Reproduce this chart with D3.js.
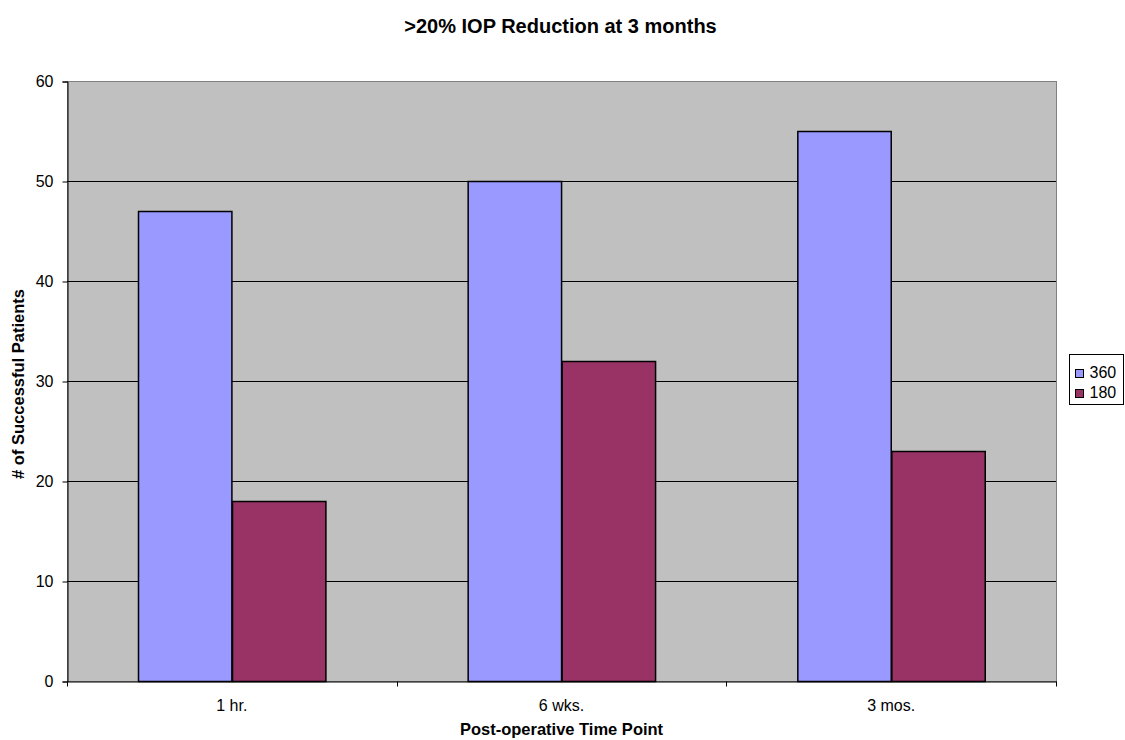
<!DOCTYPE html>
<html>
<head>
<meta charset="utf-8">
<script src="https://cdn.jsdelivr.net/npm/d3@7"></script>
<style>
  html, body { margin: 0; padding: 0; background: #fff; }
  svg { display: block; font-family: "Liberation Sans", Arial, sans-serif; }
</style>
</head>
<body>
<svg id="chart" width="1125" height="740"></svg>
<script>
// Categories, series and ticks
const timePoints = ["1 hr.", "6 wks.", "3 mos."];
const seriesNames = ["360", "180"];
const values360 = [47, 50, 55];
const values180 = [18, 32, 23];
const yTicks = [0, 10, 20, 30, 40, 50, 60];
const seriesColors = ["#9999FF", "#993366"];

const svg = d3.select("#chart");
const plot = { left: 67, right: 1056, top: 81, bottom: 681 };
const FONT = "'Liberation Sans', Arial, sans-serif";

const x = d3.scaleBand().domain(timePoints).range([plot.left, plot.right]).paddingInner(0).paddingOuter(0);
const inner = d3.scaleBand().domain(seriesNames).range([0, x.bandwidth()]).paddingInner(0).paddingOuter(0.7647);
const y = d3.scaleLinear().domain([0, 60]).range([plot.bottom, plot.top]);

// Plot background
svg.append("rect")
  .attr("x", plot.left + 0.5).attr("y", plot.top + 0.5)
  .attr("width", plot.right - plot.left).attr("height", plot.bottom - plot.top)
  .attr("fill", "#C0C0C0").attr("stroke", "#808080").attr("stroke-width", 1);

// Horizontal gridlines
svg.append("g").selectAll("line").data(yTicks.filter(d => d > 0 && d < 60)).join("line")
  .attr("x1", plot.left).attr("x2", plot.right)
  .attr("y1", d => Math.round(y(d)) + 0.5).attr("y2", d => Math.round(y(d)) + 0.5)
  .attr("stroke", "#000").attr("stroke-width", 1);

// Bars
const rows = timePoints.map((t, i) => ({ t, vals: [values360[i], values180[i]] }));
const groups = svg.append("g").selectAll("g").data(rows).join("g")
  .attr("transform", d => `translate(${x(d.t)},0)`);
groups.selectAll("rect").data(d => d.vals.map((v, j) => ({ name: seriesNames[j], v, j }))).join("rect")
  .attr("x", d => Math.round(inner(d.name)) + 0.5)
  .attr("y", d => Math.round(y(d.v)) + 0.5)
  .attr("width", inner.bandwidth())
  .attr("height", d => y(0) - Math.round(y(d.v)))
  .attr("fill", d => seriesColors[d.j])
  .attr("stroke", "#000").attr("stroke-width", 1.5);

// Y axis
const yAxis = d3.axisLeft(y).tickValues(yTicks).tickSize(5).tickPadding(9);
const gy = svg.append("g").attr("transform", `translate(${plot.left + 0.5},0.5)`).call(yAxis);
gy.select(".domain").attr("stroke", "#000");
gy.selectAll(".tick line").attr("stroke", "#000");
gy.selectAll(".tick text").attr("font-size", 16).attr("fill", "#000").attr("font-family", FONT);

// X axis with ticks at category boundaries
const xAxis = d3.axisBottom(x).tickSize(0).tickPadding(18);
const gx = svg.append("g").attr("transform", `translate(0,${plot.bottom + 0.5})`).call(xAxis);
gx.select(".domain").attr("stroke", "#000");
gx.selectAll(".tick text").attr("font-size", 16).attr("fill", "#000").attr("font-family", FONT);
const boundaries = timePoints.map(t => x(t)).concat([x(timePoints[timePoints.length - 1]) + x.bandwidth()]);
gx.selectAll(".bound").data(boundaries).join("line").attr("class", "bound")
  .attr("x1", d => Math.round(d) + 0.5).attr("x2", d => Math.round(d) + 0.5)
  .attr("y1", 0).attr("y2", 5).attr("stroke", "#000");

// Titles
svg.append("text").attr("x", 560.5).attr("y", 33).attr("text-anchor", "middle")
  .attr("font-size", 20).attr("font-weight", "bold").text(">20% IOP Reduction at 3 months");
svg.append("text").attr("x", 561.5).attr("y", 735).attr("text-anchor", "middle")
  .attr("font-size", 16.5).attr("font-weight", "bold").text("Post-operative Time Point");
svg.append("text").attr("transform", "translate(24,384) rotate(-90)").attr("text-anchor", "middle")
  .attr("font-size", 16.5).attr("font-weight", "bold").text("# of Successful Patients");

// Legend
const legend = svg.append("g").attr("transform", "translate(1069.5,354.5)");
legend.append("rect").attr("width", 54).attr("height", 50).attr("fill", "#fff").attr("stroke", "#000");
const items = legend.selectAll("g").data(seriesNames).join("g")
  .attr("transform", (d, i) => `translate(6,${15 + i * 20})`);
items.append("rect").attr("width", 8).attr("height", 8).attr("y", 0)
  .attr("fill", (d, i) => seriesColors[i]).attr("stroke", "#000");
items.append("text").attr("x", 14).attr("y", 8.5).attr("font-size", 16).text(d => d);
</script>
</body>
</html>
